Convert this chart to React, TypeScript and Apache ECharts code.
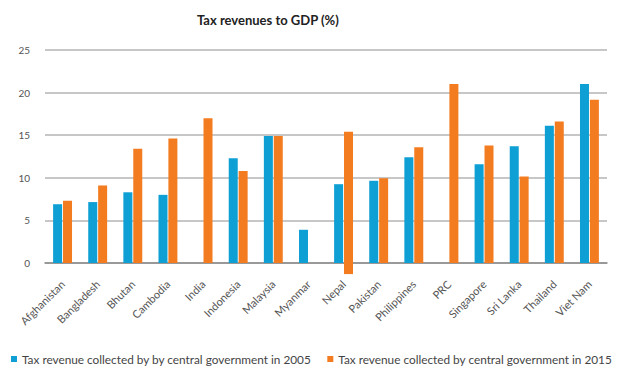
import React, { useEffect, useRef } from "react";
import * as echarts from "echarts";

const categories = [
  "Afghanistan", "Bangladesh", "Bhutan", "Cambodia", "India", "Indonesia",
  "Malaysia", "Myanmar", "Nepal", "Pakistan", "Philippines", "PRC",
  "Singapore", "Sri Lanka", "Thailand", "Viet Nam",
];
const series2005 = [6.9, 7.15, 8.3, 8.0, null, 12.3, 14.9, 3.9, 9.25, 9.65, 12.4, null, 11.6, 13.7, 16.1, 21.0];
const series2015 = [7.3, 9.1, 13.4, 14.6, 17.0, 10.8, 14.9, null, 15.4, 9.95, 13.6, 21.0, 13.8, 10.15, 16.6, 19.15];
// part of the 2015 Nepal bar drawn below the zero line in the source
const series2015Below = [null, null, null, null, null, null, null, null, -1.3, null, null, null, null, null, null, null];

const name2005 = "Tax revenue collected by by central government in 2005";
const name2015 = "Tax revenue collected by central government in 2015";
const BLUE = "#0e9fd4";
const ORANGE = "#f47c20";

export default function App() {
  const ref = useRef<HTMLDivElement>(null);
  useEffect(() => {
    document.body.style.margin = "0";
    const chart = echarts.init(ref.current!, null, { renderer: "svg" });
    chart.setOption({
      animation: false,
      textStyle: { fontFamily: "Lato" },
      title: {
        text: "Tax revenues to GDP (%)",
        left: 192,
        top: 8,
        textStyle: { fontSize: 13, fontWeight: "bold", color: "#222", fontFamily: "Lato" },
      },
      legend: {
        data: [name2005, name2015],
        left: 11,
        right: 0,
        bottom: 3,
        padding: 0,
        icon: "rect",
        itemWidth: 6,
        itemHeight: 6,
        itemGap: 16,
        textStyle: { fontSize: 11.8, color: "#444", fontFamily: "Lato", padding: [0, 0, 0, 0] },
      },
      grid: { left: 45, right: 19, top: 50, bottom: 105 },
      xAxis: {
        type: "category",
        data: categories,
        axisLine: { lineStyle: { color: "#8a8a8a", width: 1.5 } },
        axisTick: { show: false },
        axisLabel: { rotate: 45, fontSize: 11, color: "#555", margin: 19, interval: 0 },
      },
      yAxis: {
        type: "value",
        min: 0,
        max: 25,
        interval: 5,
        axisLine: { show: false },
        axisTick: { show: false },
        axisLabel: { fontSize: 10, color: "#555", margin: 15 },
        splitLine: { lineStyle: { color: "#b4b4b4", width: 1.5 } },
      },
      series: [
        {
          name: name2005,
          type: "bar",
          data: series2005,
          barWidth: 9,
          barGap: "10%",
          itemStyle: { color: BLUE },
        },
        {
          name: name2015,
          type: "bar",
          stack: "s2015",
          data: series2015,
          barWidth: 9,
          itemStyle: { color: ORANGE },
        },
        {
          name: "below",
          type: "bar",
          stack: "s2015",
          data: series2015Below,
          barWidth: 9,
          clip: false,
          itemStyle: { color: ORANGE },
        },
      ],
    });
    return () => chart.dispose();
  }, []);
  return <div ref={ref} style={{ width: 626, height: 368 }} />;
}
